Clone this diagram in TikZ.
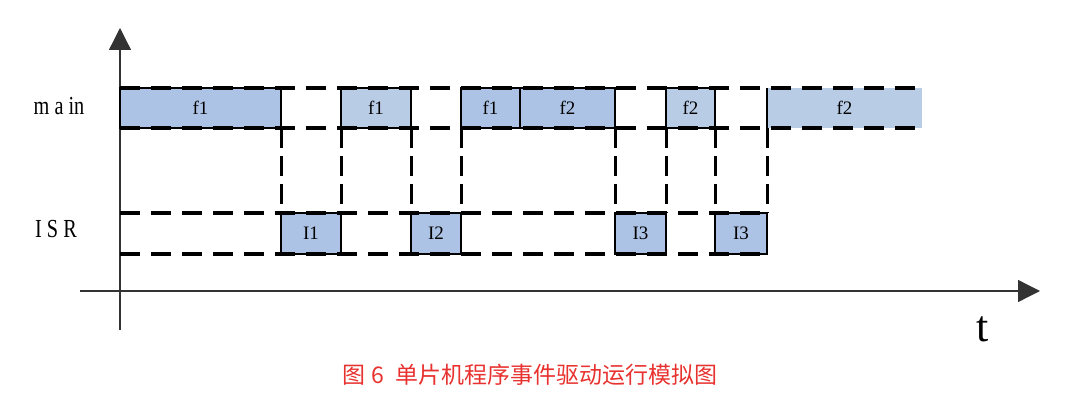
\documentclass[tikz,border=0pt]{standalone}
\usepackage{fontspec}
\setmainfont{Liberation Serif}
\newfontfamily\cjk{Noto Sans CJK SC}
\usetikzlibrary{arrows.meta}
\definecolor{blkA}{HTML}{ADC3E5}
\definecolor{blkB}{HTML}{B9CCE6}
\definecolor{capred}{HTML}{E8322F}
\definecolor{axisgray}{HTML}{333333}
\tikzset{
  blk/.style={draw, line width=1.8pt, fill=blkA, inner sep=0pt, outer sep=0pt,
    anchor=west, minimum height=40pt, font=\fontsize{19}{19}\selectfont},
  blklight/.style={blk, fill=blkB},
  band/.style={line width=3.8pt, dash pattern=on 20pt off 11pt},
  link/.style={line width=3pt, dash pattern=on 20pt off 8pt},
  axis/.style={line width=1.3pt, color=axisgray, -{Triangle[width=22pt,length=22pt]}},
  rowlabel/.style={font=\fontsize{26}{26}\selectfont, xscale=0.78, transform shape}
}
\begin{document}
\begin{tikzpicture}[x=1pt, y=-1pt]
\useasboundingbox (0,0) rectangle (1080,401);
% axes
\coordinate (ybot) at (120,330);
\coordinate (ytop) at (120,28);
\coordinate (xleft) at (80,291);
\coordinate (xright) at (1040,291);
\draw[axis] (ybot) -- (ytop);
\draw[axis] (xleft) -- (xright);
\node (tlabel) at (983,329) {\fontsize{44}{44}\selectfont t};
% row labels
\node[rowlabel] (mainlabel) at (59,106) {m a in};
\node[rowlabel] (isrlabel) at (56,229) {I S R};
% main row
\node[blk, minimum width=161pt] (m1) at (120,108) {f1};
\node[blklight, minimum width=70pt] (m2) at (341,108) {f1};
\node[blk, minimum width=59pt] (m3) at (461,108) {f1};
\node[blk, minimum width=95pt] (m4) at (520,108) {f2};
\node[blklight, minimum width=49pt] (m5) at (666,108) {f2};
\node[blklight, minimum width=155pt, draw=none] (m6) at (767,108) {f2};
\draw[line width=1.8pt] (m6.north west) -- (m6.south west);
% ISR row
\node[blk, minimum width=60pt, minimum height=41pt] (i1) at (281,233.5) {I1};
\node[blk, minimum width=50pt, minimum height=41pt] (i2) at (411,233.5) {I2};
\node[blk, minimum width=51pt, minimum height=41pt] (i3) at (615,233.5) {I3};
\node[blk, minimum width=52pt, minimum height=41pt] (i4) at (715,233.5) {I3};
% bands
\coordinate (isrtop) at (120,213);
\coordinate (isrbot) at (120,254);
\draw[band] (m1.north west) -- (m6.north east);
\draw[band] (m1.south west) -- (m6.south east);
\draw[band] (isrtop) -- (i4.north east);
\draw[band] (isrbot) -- (i4.south east);
% switches
\draw[link] (m1.south east) -- (i1.north west);
\draw[link] (m2.south west) -- (i1.north east);
\draw[link] (m2.south east) -- (i2.north west);
\draw[link] (m3.south west) -- (i2.north east);
\draw[link] (m4.south east) -- (i3.north west);
\draw[link] (m5.south west) -- (i3.north east);
\draw[link] (m5.south east) -- (i4.north west);
\draw[link] (m6.south west) -- (i4.north east);
% caption
\node[text=capred, font=\cjk\fontsize{23}{23}\selectfont] (caption) at (530,375) {图\hspace{6pt}6\hspace{12pt}单片机程序事件驱动运行模拟图};
\end{tikzpicture}
\end{document}
